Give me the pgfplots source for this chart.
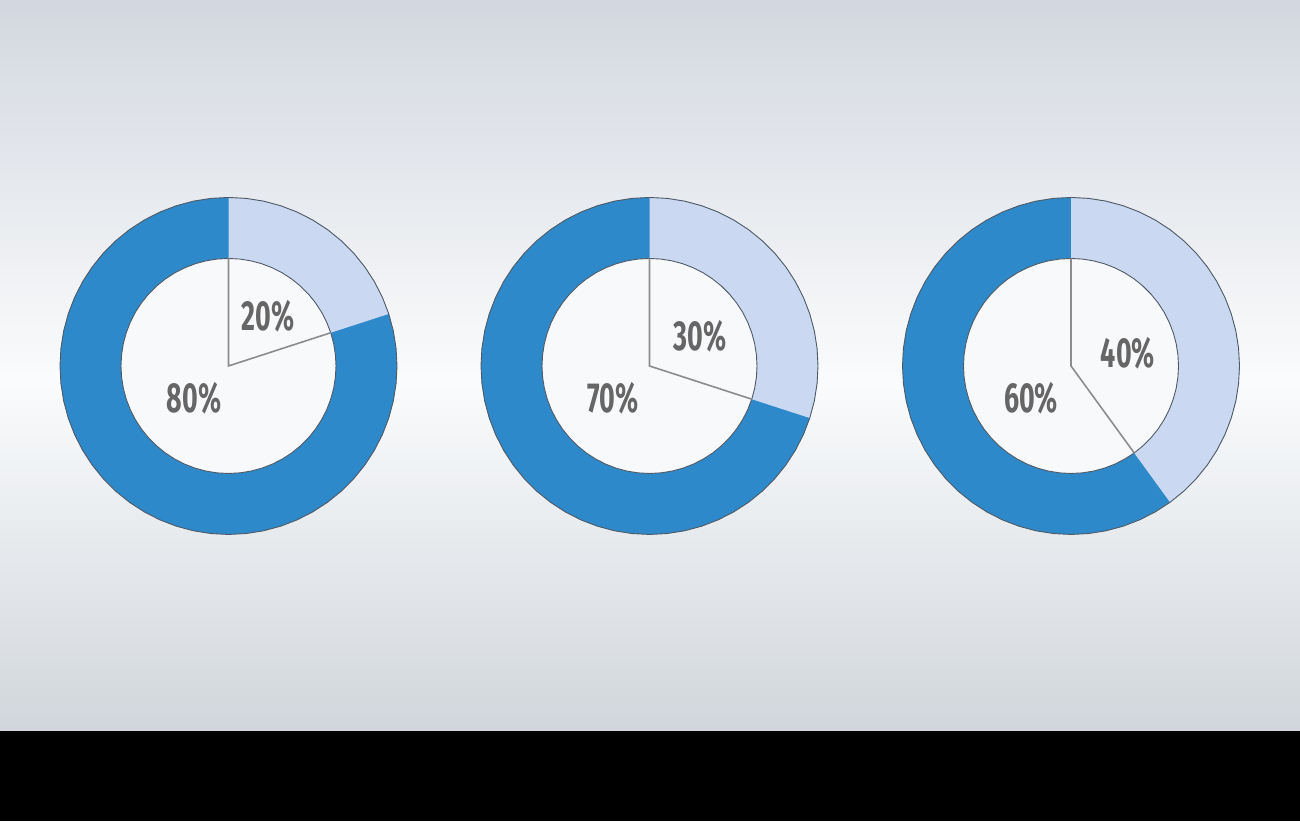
\documentclass[border=0pt]{standalone}
\usepackage{fontspec}
\usepackage{pgfplots}
\usepackage{pgfplotstable}
\usepgfplotslibrary{polar}
\pgfplotsset{compat=1.18}

\newfontfamily\labfont[FakeStretch=0.64]{Fira Sans}

\definecolor{darkpart}{HTML}{2D89C9}
\definecolor{lightpart}{HTML}{CAD9F1}
\definecolor{ringline}{HTML}{4F5A66}
\definecolor{spoke}{HTML}{8C8C8C}
\definecolor{labgray}{HTML}{666666}
\definecolor{innerfill}{HTML}{F8F9FB}
\definecolor{bgtop}{HTML}{D3D8E0}
\definecolor{bgmid}{HTML}{FAFBFC}
\definecolor{bgbot}{HTML}{D1D6DC}

% outline of the ring: angle (deg), outer radius, inner radius
\pgfplotstableread{
a ro ri
-270 1 0.638
-264 1 0.638
-258 1 0.638
-252 1 0.638
-246 1 0.638
-240 1 0.638
-234 1 0.638
-228 1 0.638
-222 1 0.638
-216 1 0.638
-210 1 0.638
-204 1 0.638
-198 1 0.638
-192 1 0.638
-186 1 0.638
-180 1 0.638
-174 1 0.638
-168 1 0.638
-162 1 0.638
-156 1 0.638
-150 1 0.638
-144 1 0.638
-138 1 0.638
-132 1 0.638
-126 1 0.638
-120 1 0.638
-114 1 0.638
-108 1 0.638
-102 1 0.638
-96 1 0.638
-90 1 0.638
-84 1 0.638
-78 1 0.638
-72 1 0.638
-66 1 0.638
-60 1 0.638
-54 1 0.638
-48 1 0.638
-42 1 0.638
-36 1 0.638
-30 1 0.638
-24 1 0.638
-18 1 0.638
-12 1 0.638
-6 1 0.638
0 1 0.638
6 1 0.638
12 1 0.638
18 1 0.638
24 1 0.638
30 1 0.638
36 1 0.638
42 1 0.638
48 1 0.638
54 1 0.638
60 1 0.638
66 1 0.638
72 1 0.638
78 1 0.638
84 1 0.638
90 1 0.638
}\ringtable

% #1 centre x, #2 light share (%), #3 dark share (%),
% #4/#5 angle/radius of the light label, #6/#7 of the dark label
\newcommand\donut[7]{%
  \pgfmathsetmacro\cut{90-3.6*#2}%
  \begin{polaraxis}[
      at={(#1,227.75pt)}, anchor=center,
      scale only axis, width=168.5pt, height=168.5pt,
      xmin=0, xmax=360, ymin=0, ymax=1,
      hide axis, clip=false,
    ]
    \addplot[fill=darkpart, draw=none] table[x=a, y=ro] {\ringtable} -- cycle;
    \addplot[fill=lightpart, draw=none, restrict x to domain/.expanded={\cut:90}]
      table[x=a, y=ro] {\ringtable} -- (axis cs:0,0) -- cycle;
    \addplot[fill=innerfill, draw=ringline, line width=0.45pt]
      table[x=a, y=ri] {\ringtable} -- cycle;
    \addplot[draw=spoke, line width=0.8pt]
      coordinates {(90,0.638) (0,0) (\cut,0.638)};
    \addplot[draw=ringline, line width=0.45pt] table[x=a, y=ro] {\ringtable} -- cycle;
    \node[font=\labfont\bfseries\fontsize{21}{21}\selectfont, text=labgray]
      at (axis cs:#4,#5) {#2\%};
    \node[font=\labfont\bfseries\fontsize{21}{21}\selectfont, text=labgray]
      at (axis cs:#6,#7) {#3\%};
  \end{polaraxis}%
}

\begin{document}
\begin{tikzpicture}
  % background: light in the middle, greyer to top and bottom
  \foreach \i [evaluate=\i as \p using 100*\i/39,
               evaluate=\i as \yy using 220+\i*190.5/40] in {0,...,39}
    \fill[bgtop!\p!bgmid] (0,\yy pt) rectangle (650pt,\yy pt+5pt);
  \foreach \i [evaluate=\i as \p using 100*(39-\i)/39,
               evaluate=\i as \yy using 45+\i*175/40] in {0,...,39}
    \fill[bgbot!\p!bgmid] (0,\yy pt) rectangle (650pt,\yy pt+4.6pt);
  \fill[black] (0,0) rectangle (650pt,45pt);

  \donut{114.25pt}{20}{80}{51.4}{0.376}{223.3}{0.281}
  \donut{324.75pt}{30}{70}{30.3}{0.347}{221.7}{0.290}
  \donut{535.5pt}{40}{60}{12.4}{0.346}{219.1}{0.306}
\end{tikzpicture}
\end{document}
